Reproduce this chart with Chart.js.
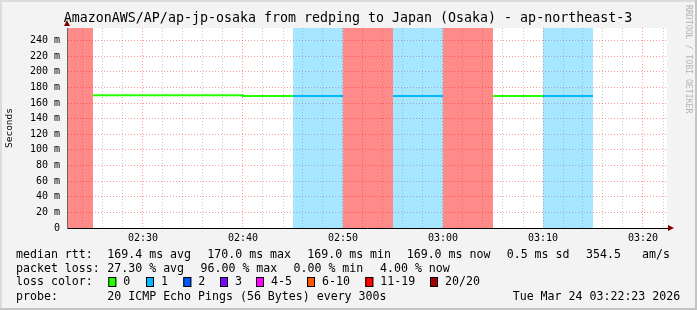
<!DOCTYPE html>
<html>
<head>
<meta charset="utf-8">
<script src="https://cdn.jsdelivr.net/npm/chart.js@4.4.1/dist/chart.umd.min.js"></script>
<style>
  html, body { margin: 0; padding: 0; background: #f3f3f3; }
  #wrap { width: 697px; height: 310px; position: relative; }
</style>
</head>
<body>
<div id="wrap"><canvas id="pingChart"></canvas></div>
<script>
// 5 minute steps (start of each step), median rtt in ms, lost pings of 20
const binStarts = ['02:20', '02:25', '02:30', '02:35', '02:40', '02:45', '02:50', '02:55', '03:00', '03:05', '03:10', '03:15'];
const medianMs  = [null, 170, 170, 170, 169, 169, null, 169, null, 169, 169, null];
const lossCount = [19, 0, 0, 0, 0, 1, 19, 1, 19, 0, 1, null];

const lossLabels = ['0', '1', '2', '3', '4-5', '6-10', '11-19', '20/20'];
const lossColors = ['#26ff00', '#00b8ff', '#0059ff', '#7e00ff', '#ff00ff', '#ff5500', '#ff0000', '#a10000'];
const bandAlpha  = [0, 0.35, 0.35, 0.35, 0.35, 0.4, 0.46, 0.5];

const xTickLabels = ['02:30', '02:40', '02:50', '03:00', '03:10', '03:20'];
const yTickValues = [0, 20, 40, 60, 80, 100, 120, 140, 160, 180, 200, 220, 240];
const yTickLabels = ['0', '20 m', '40 m', '60 m', '80 m', '100 m', '120 m', '140 m', '160 m', '180 m', '200 m', '220 m', '240 m'];

const titleText = 'AmazonAWS/AP/ap-jp-osaka from redping to Japan (Osaka) - ap-northeast-3';
const rttStats  = ['169.4 ms avg', '170.0 ms max', '169.0 ms min', '169.0 ms now', '0.5 ms sd', '354.5', 'am/s'];
const lossStats = ['27.30 % avg', '96.00 % max', '0.00 % min', '4.00 % now'];
const probeText = '20 ICMP Echo Pings (56 Bytes) every 300s';
const stampText = 'Tue Mar 24 03:22:23 2026';

const X_MIN = '02:22:24';
const X_MAX = '03:22:24';
const Y_MAX = 256;
const STEP = 5;

function toMin(t) {
  const p = t.split(':').map(Number);
  return p[0] * 60 + p[1] + (p[2] || 0) / 60;
}
function lossClass(n) {
  if (n === null) return -1;
  if (n <= 3) return n;
  if (n <= 5) return 4;
  if (n <= 10) return 5;
  if (n <= 19) return 6;
  return 7;
}
function withAlpha(hex, a) {
  const r = parseInt(hex.substr(1, 2), 16), g = parseInt(hex.substr(3, 2), 16), b = parseInt(hex.substr(5, 2), 16);
  return 'rgba(' + r + ',' + g + ',' + b + ',' + a + ')';
}

// loss background bands, one dataset per loss class
const bandSets = [];
for (let c = 1; c < lossColors.length; c++) {
  if (!lossCount.some(n => lossClass(n) === c)) continue;
  const pts = [];
  binStarts.forEach((s, i) => {
    const v = lossClass(lossCount[i]) === c ? Y_MAX : 0;
    pts.push({ x: toMin(s), y: v }, { x: toMin(s) + STEP, y: v });
  });
  bandSets.push({
    label: 'loss ' + lossLabels[c],
    data: pts,
    order: 2,
    fill: 'origin',
    backgroundColor: withAlpha(lossColors[c], bandAlpha[c]),
    borderWidth: 0,
    pointRadius: 0
  });
}

// median line coloured by loss
const linePts = [];
binStarts.forEach((s, i) => {
  if (medianMs[i] === null) {
    linePts.push({ x: toMin(s), y: null });
  } else {
    const col = lossColors[lossClass(lossCount[i])];
    linePts.push({ x: toMin(s), y: medianMs[i], c: col }, { x: toMin(s) + STEP, y: medianMs[i], c: col });
  }
});

const xGrid = [];
for (let m = 144; m <= toMin(X_MAX); m += 2) xGrid.push(m);
const yGrid = [];
for (let v = 0; v < Y_MAX; v += 10) yGrid.push(v);

function fmtTime(m) {
  const h = Math.floor(m / 60), mm = Math.round(m % 60);
  return String(h).padStart(2, '0') + ':' + String(mm).padStart(2, '0');
}

const MONO = "'DejaVu Sans Mono', monospace";

const decor = {
  id: 'decor',
  beforeDraw(chart) {
    const ctx = chart.ctx, a = chart.chartArea;
    ctx.save();
    ctx.fillStyle = '#f3f3f3';
    ctx.fillRect(0, 0, chart.width, chart.height);
    ctx.fillStyle = '#ffffff';
    ctx.fillRect(a.left, a.top, a.right - a.left, a.bottom - a.top);
    // frame
    ctx.fillStyle = '#dcdcdc';
    ctx.fillRect(0, 0, chart.width, 2);
    ctx.fillRect(0, 0, 2, chart.height);
    ctx.fillStyle = '#c4c4c4';
    ctx.fillRect(0, chart.height - 2, chart.width, 2);
    ctx.fillRect(chart.width - 2, 0, 2, chart.height);
    ctx.restore();
  },
  afterDraw(chart) {
    const ctx = chart.ctx, a = chart.chartArea;
    ctx.save();
    // arrows
    ctx.fillStyle = '#800000';
    ctx.beginPath();
    ctx.moveTo(a.left - 3, 26); ctx.lineTo(a.left + 3, 26); ctx.lineTo(a.left, 20); ctx.closePath(); ctx.fill();
    ctx.beginPath();
    ctx.moveTo(a.right + 1, a.bottom - 3); ctx.lineTo(a.right + 1, a.bottom + 3); ctx.lineTo(a.right + 7, a.bottom); ctx.closePath(); ctx.fill();

    // title
    ctx.fillStyle = '#000';
    ctx.textBaseline = 'middle';
    ctx.textAlign = 'center';
    ctx.font = '13.3px ' + MONO;
    ctx.fillText(titleText, 348, 19);

    // vertical credit
    ctx.save();
    ctx.translate(684, 5);
    ctx.rotate(Math.PI / 2);
    ctx.textAlign = 'left';
    ctx.textBaseline = 'bottom';
    ctx.fillStyle = '#b4b4b4';
    ctx.font = '8.2px ' + MONO;
    ctx.fillText('RRDTOOL / TOBI OETIKER', 0, 0);
    ctx.restore();

    // legend lines
    ctx.textAlign = 'left';
    ctx.textBaseline = 'middle';
    ctx.font = '11.6px ' + MONO;
    ctx.fillStyle = '#000';
    const rows = [254.5, 268.5, 282, 296.5];
    ctx.fillText('median rtt:', 16, rows[0]);
    [107.3, 207.3, 307.3, 406.7, 506.7, 586, 642].forEach((x, i) => ctx.fillText(rttStats[i], x, rows[0]));
    ctx.fillText('packet loss:', 16, rows[1]);
    [107.3, 200.5, 293.5, 380].forEach((x, i) => ctx.fillText(lossStats[i], x, rows[1]));
    ctx.fillText('loss color:', 16, rows[2]);
    const boxX = [108.3, 146, 183.3, 220, 256, 307, 365.3, 430];
    lossLabels.forEach((lab, i) => {
      ctx.fillStyle = lossColors[i];
      ctx.fillRect(boxX[i], rows[2] - 5, 8, 10);
      ctx.strokeStyle = '#000';
      ctx.lineWidth = 1;
      ctx.strokeRect(boxX[i] + 0.5, rows[2] - 5 + 0.5, 7, 9);
      ctx.fillStyle = '#000';
      ctx.fillText(lab, boxX[i] + 15, rows[2]);
    });
    ctx.fillText('probe:', 16, rows[3]);
    ctx.fillText(probeText, 107.3, rows[3]);
    ctx.fillText(stampText, 512.7, rows[3]);
    ctx.restore();
  }
};

new Chart(document.getElementById('pingChart'), {
  type: 'line',
  data: {
    datasets: [{
      label: 'median rtt',
      data: linePts,
      order: 1,
      borderWidth: 2,
      pointRadius: 0,
      spanGaps: false,
      borderColor: lossColors[0],
      segment: {
        borderColor: ctx => linePts[ctx.p1DataIndex].c || linePts[ctx.p0DataIndex].c
      }
    }].concat(bandSets)
  },
  options: {
    responsive: true,
    maintainAspectRatio: false,
    animation: false,
    events: [],
    layout: { padding: { left: 0, top: 28, right: 30, bottom: 60 } },
    plugins: {
      legend: { display: false },
      tooltip: { enabled: false },
      title: { display: false }
    },
    scales: {
      x: {
        type: 'linear',
        min: toMin(X_MIN),
        max: toMin(X_MAX),
        afterFit: s => { s.height = 22; },
        afterBuildTicks: s => { s.ticks = xGrid.map(v => ({ value: v })); },
        grid: {
          drawTicks: false,
          color: c => (Math.round(c.tick.value) % 10 === 0 ? 'rgba(255,0,0,0.4)' : 'rgba(120,120,120,0.4)'),
          lineWidth: 1
        },
        border: { display: true, color: '#000', width: 1, dash: [1, 2], z: 1 },
        ticks: {
          padding: 4,
          maxRotation: 0,
          autoSkip: false,
          color: '#000',
          font: { family: MONO, size: 10 },
          callback: v => (xTickLabels.includes(fmtTime(v)) ? fmtTime(v) : '')
        }
      },
      y: {
        min: 0,
        max: Y_MAX,
        afterFit: s => { s.width = 67; },
        afterBuildTicks: s => { s.ticks = yGrid.map(v => ({ value: v })); },
        grid: {
          drawTicks: false,
          color: c => (c.tick.value % 20 === 0 ? 'rgba(255,0,0,0.4)' : 'rgba(120,120,120,0.4)'),
          lineWidth: 1
        },
        border: { display: true, color: '#666', width: 1, dash: [1, 2], z: 1 },
        title: {
          display: true,
          text: 'Seconds',
          color: '#000',
          font: { family: MONO, size: 9.5 },
          padding: { top: 4, bottom: 0 }
        },
        ticks: {
          padding: 7,
          color: '#000',
          font: { family: MONO, size: 10 },
          callback: v => {
            const k = yTickValues.indexOf(v);
            return k >= 0 ? yTickLabels[k] : '';
          }
        }
      }
    }
  },
  plugins: [decor]
});
</script>
</body>
</html>
